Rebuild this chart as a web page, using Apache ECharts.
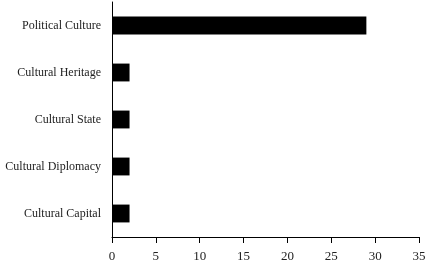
<!DOCTYPE html>
<html><head><meta charset="utf-8">
<script src="https://cdn.jsdelivr.net/npm/echarts@6/dist/echarts.min.js"></script>
<style>html,body{margin:0;padding:0;background:#fff}#c{width:430px;height:268px}</style>
</head><body><div id="c"></div>
<script>
const categories = ["Political Culture", "Cultural Heritage", "Cultural State", "Cultural Diplomacy", "Cultural Capital"];
const values = [29, 2, 2, 2, 2];
const xTicks = [0, 5, 10, 15, 20, 25, 30, 35];

const chart = echarts.init(document.getElementById('c'), null, {renderer: 'canvas'});
chart.setOption({
  animation: false,
  backgroundColor: '#fff',
  grid: {left: 112, right: 11, top: 2, bottom: 31, containLabel: false},
  xAxis: {
    type: 'value', min: xTicks[0], max: xTicks[xTicks.length - 1], interval: 5,
    axisLine: {show: true, lineStyle: {color: '#000', width: 1}},
    axisTick: {show: true, length: 6, lineStyle: {color: '#000'}},
    splitLine: {show: false},
    axisLabel: {color: '#222', fontFamily: 'Liberation Serif', fontSize: 13, margin: 13}
  },
  yAxis: {
    type: 'category', data: categories, inverse: true,
    axisLine: {show: true, lineStyle: {color: '#000', width: 1}},
    axisTick: {show: false},
    axisLabel: {color: '#222', fontFamily: 'Liberation Serif', fontSize: 12, margin: 11}
  },
  series: [{
    type: 'bar', data: values, barCategoryGap: '62%',
    itemStyle: {color: '#000'}
  }]
});
</script></body></html>
